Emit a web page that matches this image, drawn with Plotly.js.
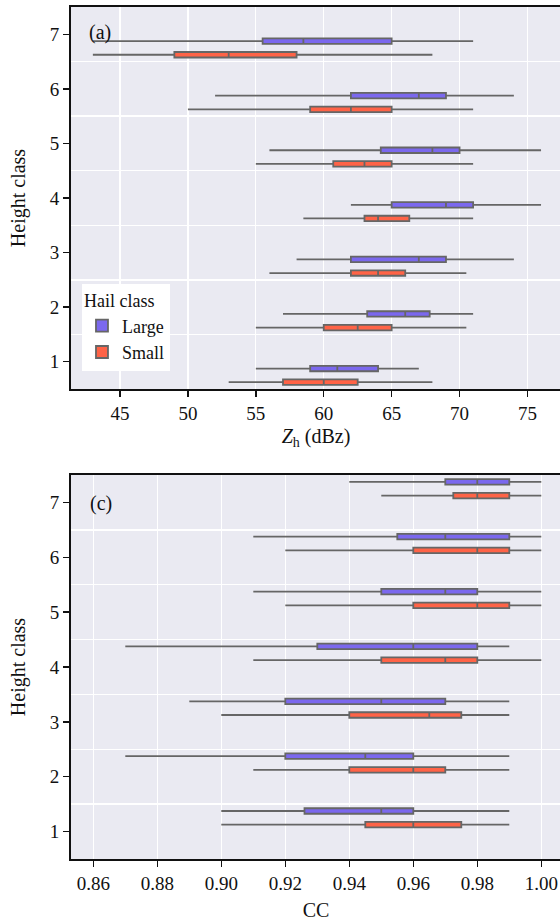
<!DOCTYPE html>
<html>
<head>
<meta charset="utf-8">
<script src="https://cdn.plot.ly/plotly-3.0.1.min.js"></script>
<style>
html,body{margin:0;padding:0;overflow:hidden;background:#fff;}
#chart{width:561px;height:924px;}
</style>
</head>
<body>
<div id="chart"></div>
<script>
// Height classes
const heightClasses = [1, 2, 3, 4, 5, 6, 7];
const tickLabels = ['1', '2', '3', '4', '5', '6', '7'];
const hailClasses = ['Large', 'Small'];

// Panel (a): Zh (dBZ)
const zhLargeLow  = [55, 57, 58, 62, 56, 52, 43];
const zhLargeQ1   = [59, 63.2, 62, 65, 64.2, 62, 55.5];
const zhLargeMed  = [61, 66, 67, 69, 68, 67, 58.5];
const zhLargeQ3   = [64, 67.8, 69, 71, 70, 69, 65];
const zhLargeHigh = [67, 71, 74, 76, 76, 74, 71];

const zhSmallLow  = [53, 55, 56, 58.5, 55, 50, 43];
const zhSmallQ1   = [57, 60, 62, 63, 60.7, 59, 49];
const zhSmallMed  = [60, 62.5, 64, 64, 63, 62, 53];
const zhSmallQ3   = [62.5, 65, 66, 66.3, 65, 65, 58];
const zhSmallHigh = [68, 70.5, 70.5, 71, 71, 71, 68];

// Panel (c): CC
const ccLargeLow  = [0.90, 0.87, 0.89, 0.87, 0.91, 0.91, 0.94];
const ccLargeQ1   = [0.926, 0.92, 0.92, 0.93, 0.95, 0.955, 0.97];
const ccLargeMed  = [0.95, 0.945, 0.95, 0.96, 0.97, 0.97, 0.98];
const ccLargeQ3   = [0.96, 0.96, 0.97, 0.98, 0.98, 0.99, 0.99];
const ccLargeHigh = [0.99, 0.99, 0.99, 0.99, 1.00, 1.00, 1.00];

const ccSmallLow  = [0.90, 0.91, 0.90, 0.91, 0.92, 0.92, 0.95];
const ccSmallQ1   = [0.945, 0.94, 0.94, 0.95, 0.96, 0.96, 0.9725];
const ccSmallMed  = [0.96, 0.96, 0.965, 0.97, 0.98, 0.98, 0.98];
const ccSmallQ3   = [0.975, 0.97, 0.975, 0.98, 0.99, 0.99, 0.99];
const ccSmallHigh = [0.99, 0.99, 0.99, 1.00, 1.00, 1.00, 1.00];

const colorLarge = '#7B68EE';
const colorSmall = '#FF6347';
const lineGrey = '#666666';
const FONT = 'Liberation Serif';

function boxTrace(name, fill, low, q1, med, q3, high, xa, ya, showLeg) {
  return {
    type: 'box', orientation: 'h', name: name, legendgroup: name,
    showlegend: showLeg,
    y: heightClasses, q1: q1, median: med, q3: q3,
    lowerfence: low, upperfence: high,
    fillcolor: fill,
    line: {color: lineGrey, width: 1.8},
    whiskerwidth: 0,
    boxpoints: false,
    xaxis: xa, yaxis: ya,
    hoverinfo: 'skip'
  };
}

// Small first so that it sits below Large within each height class
const traces = [
  boxTrace('Small', colorSmall, zhSmallLow, zhSmallQ1, zhSmallMed, zhSmallQ3, zhSmallHigh, 'x', 'y', true),
  boxTrace('Large', colorLarge, zhLargeLow, zhLargeQ1, zhLargeMed, zhLargeQ3, zhLargeHigh, 'x', 'y', true),
  boxTrace('Small', colorSmall, ccSmallLow, ccSmallQ1, ccSmallMed, ccSmallQ3, ccSmallHigh, 'x2', 'y2', false),
  boxTrace('Large', colorLarge, ccLargeLow, ccLargeQ1, ccLargeMed, ccLargeQ3, ccLargeHigh, 'x2', 'y2', false)
];

const H = 924;
const commonX = {
  showline: true, linecolor: '#111', linewidth: 2, mirror: true,
  ticks: 'outside', ticklen: 6, tickwidth: 1.5, tickcolor: '#111',
  showgrid: true, gridcolor: '#ffffff', gridwidth: 1.3,
  zeroline: false,
  tickfont: {family: FONT, size: 19, color: '#111'}
};
const commonY = {
  showline: true, linecolor: '#111', linewidth: 2, mirror: true,
  ticks: 'outside', ticklen: 6, tickwidth: 1.5, tickcolor: '#111',
  tickvals: heightClasses, ticktext: tickLabels,
  range: [0.5, 7.5], showgrid: false, zeroline: false,
  minor: {tickvals: [1.5, 2.5, 3.5, 4.5, 5.5, 6.5], showgrid: true, gridcolor: '#ffffff', gridwidth: 1.3, ticks: ''},
  tickfont: {family: FONT, size: 19, color: '#111'},
  title: {text: 'Height class', font: {family: FONT, size: 20, color: '#111'}, standoff: 19}
};

const layout = {
  width: 561, height: H,
  margin: {l: 71, r: 0, t: 0, b: 0},
  paper_bgcolor: '#ffffff',
  plot_bgcolor: '#EAEAF2',
  boxmode: 'group', boxgap: 0, boxgroupgap: 0.6,
  font: {family: FONT, color: '#111'},
  xaxis: Object.assign({}, commonX, {
    anchor: 'y', domain: [0, 1], range: [41.39, 77.47],
    tickvals: [45, 50, 55, 60, 65, 70, 75],
    title: {text: '<i>Z</i><sub>h</sub> (dBz)', font: {family: FONT, size: 20, color: '#111'}, standoff: 6}
  }),
  yaxis: Object.assign({}, commonY, {anchor: 'x', domain: [1 - 389 / H, 1 - 7 / H]}),
  xaxis2: Object.assign({}, commonX, {
    anchor: 'y2', domain: [0, 1], range: [0.85303, 1.00616],
    tickvals: [0.86, 0.88, 0.90, 0.92, 0.94, 0.96, 0.98, 1.00],
    tickformat: '.2f',
    title: {text: 'CC', font: {family: FONT, size: 20, color: '#111'}, standoff: 10}
  }),
  yaxis2: Object.assign({}, commonY, {anchor: 'x2', domain: [1 - 859 / H, 1 - 475 / H]}),
  legend: {
    x: 0.0224, y: 1 - 284 / H, xanchor: 'left', yanchor: 'top',
    bgcolor: '#ffffff', borderwidth: 0,
    font: {family: FONT, size: 18, color: '#111'},
    title: {text: 'Hail class', font: {family: FONT, size: 18, color: '#111'}},
    traceorder: 'reversed'
  },
  annotations: [
    {text: '(a)', xref: 'paper', yref: 'paper', x: 0.0327, y: 1 - 33 / H, xanchor: 'left', yanchor: 'middle', showarrow: false, font: {family: FONT, size: 20, color: '#111'}},
    {text: '(c)', xref: 'paper', yref: 'paper', x: 0.0347, y: 1 - 504 / H, xanchor: 'left', yanchor: 'middle', showarrow: false, font: {family: FONT, size: 20, color: '#111'}}
  ]
};

Plotly.newPlot('chart', traces, layout, {displayModeBar: false, staticPlot: true});
</script>
</body>
</html>
